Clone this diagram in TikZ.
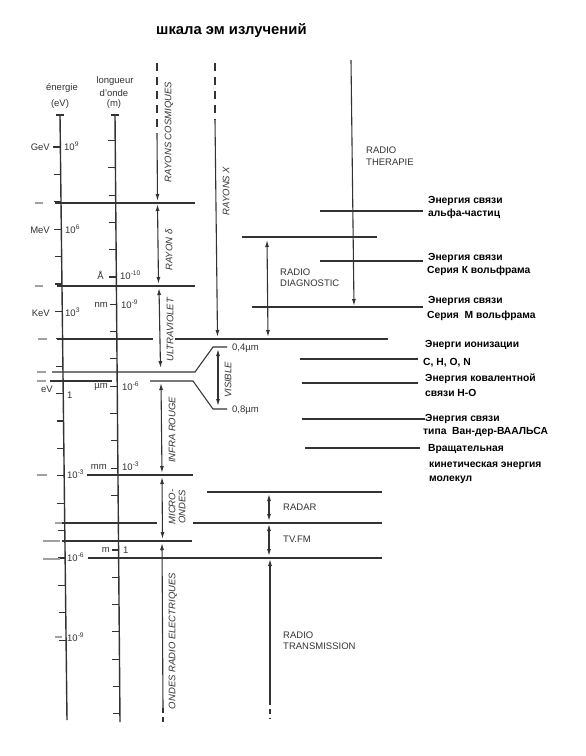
\documentclass[tikz,border=0pt]{standalone}
\usepackage{fontspec}
\setmainfont{Liberation Sans}
\usetikzlibrary{arrows.meta}
\definecolor{ink}{HTML}{333333}
\definecolor{faint}{HTML}{A0A0A0}
\begin{document}
\begin{tikzpicture}[x=1pt,y=-1pt,
  ln/.style={draw=ink, line width=1.05pt},
  axisline/.style={draw=ink, line width=1.4pt},
  gdash/.style={draw=faint, line width=1.3pt},
  tip/.tip={Latex[length=7pt,width=4pt]},
  arr/.style={draw=ink, line width=1.1pt, -tip},
  darr/.style={draw=ink, line width=1.1pt, tip-tip},
  dsh/.style={draw=ink, line width=1.1pt, dash pattern=on 8pt off 6pt},
  lbl/.style={font=\fontsize{9.5}{11}\selectfont, text=ink, inner sep=0pt},
  vlbl/.style={font=\fontsize{9.5}{11}\selectfont\itshape, text=ink, rotate=90, inner sep=0pt},
  ru/.style={font=\fontsize{10.3}{12}\selectfont\bfseries, text=black, inner sep=0pt, anchor=base west},
]
\useasboundingbox[fill=white] (0,0) rectangle (586,756);

% title
\node[font=\fontsize{14.8}{16}\selectfont\bfseries, anchor=base west, inner sep=0pt] (title) at (156,34) {шкала эм излучений};

% headers
\node[lbl] (hE1) at (62,88) {énergie};
\node[lbl] (hE2) at (60,104) {(eV)};
\node[lbl] (hW1) at (115,81) {longueur};
\node[lbl] (hW2) at (114,93) {d'onde};
\node[lbl] (hW3) at (114,104) {(m)};

% axes
\coordinate (eTop) at (60,115);
\coordinate (eBot) at (67,720);
\coordinate (wTop) at (115,115);
\coordinate (wBot) at (120,722);
\draw[axisline] (eTop) -- (eBot);
\draw[axisline] (wTop) -- (wBot);
\draw[ln] ([xshift=-4pt]eTop) -- ([xshift=4pt]eTop);
\draw[ln] ([xshift=-4pt]wTop) -- ([xshift=4pt]wTop);

% energy ticks
\foreach \k in {0,...,18}{
  \pgfmathsetmacro\yy{147+27.4*\k}
  \pgfmathsetmacro\xx{60+7*(\yy-115)/605}
  \draw[ln] (\xx-7,\yy) -- (\xx,\yy);
}
% wavelength ticks
\foreach \k in {-5,...,16}{
  \pgfmathsetmacro\yy{277+27.3*\k}
  \pgfmathsetmacro\xx{115+5*(\yy-115)/607}
  \draw[ln] (\xx-7,\yy) -- (\xx,\yy);
}

% energy labels
\node[lbl, anchor=east] (lGeV) at (50,147) {GeV};
\node[lbl, anchor=west] (n9) at (64,146) {10\textsuperscript{9}};
\node[lbl, anchor=east] (lMeV) at (50,230) {MeV};
\node[lbl, anchor=west] (n6) at (65,229) {10\textsuperscript{6}};
\node[lbl, anchor=east] (lKeV) at (50,313) {KeV};
\node[lbl, anchor=west] (n3) at (65,312) {10\textsuperscript{3}};
\node[lbl, anchor=east] (leV) at (53,389) {eV};
\node[lbl, anchor=west] (n0) at (67,395) {1};
\node[lbl, anchor=west] (nm3) at (67,474) {10\textsuperscript{-3}};
\node[lbl, anchor=west] (nm6) at (67,557) {10\textsuperscript{-6}};
\node[lbl, anchor=west] (nm9) at (67,637) {10\textsuperscript{-9}};

% wavelength labels
\node[lbl, anchor=east] (lA) at (104,275) {Å};
\node[lbl, anchor=west] (w10) at (120,275) {10\textsuperscript{-10}};
\node[lbl, anchor=east] (lnm) at (108,305) {nm};
\node[lbl, anchor=west] (w9) at (121,304) {10\textsuperscript{-9}};
\node[lbl, anchor=east] (lum) at (108,387) {µm};
\node[lbl, anchor=west] (w6) at (122,386) {10\textsuperscript{-6}};
\node[lbl, anchor=east] (lmm) at (107,467) {mm};
\node[lbl, anchor=west] (w3) at (122,466) {10\textsuperscript{-3}};
\node[lbl, anchor=east] (lm) at (110,550) {m};
\node[lbl, anchor=west] (w0) at (123,550) {1};

% faint marks left of energy axis
\foreach \ya/\xa/\xb in {203/35/43, 286/35/43, 339/38/47, 372/37/46, 381/37/46, 475/37/47, 523/55/62, 541/43/60, 559/43/60, 637/55/62}{
  \draw[gdash] (\xa,\ya) -- (\xb,\ya);
}

% horizontal boundaries (left part)
\draw[ln] (55,203) -- (195,203);
\draw[ln] (57,286) -- (195,286);
\draw[ln] (57,339) -- (153,339);
\draw[ln] (175,339) -- (388,339);
\draw[ln] (52,372) -- (195,372) -- (213,347) -- (227,347);
\draw[ln] (50,381) -- (112,381);
\draw[ln] (150,381) -- (193,381) -- (213,409) -- (227,409);
\draw[ln] (87,475) -- (193,475);
\draw[ln] (62,523) -- (157,523);
\draw[ln] (193,523) -- (382,523);
\draw[ln] (62,541) -- (192,541);
\draw[ln] (88,558) -- (382,558);
\draw[ln] (207,492) -- (382,492);

% right-side lines
\draw[ln] (320,211) -- (423,211);
\draw[ln] (242,237) -- (377,237);
\draw[ln] (320,261) -- (423,261);
\draw[ln] (252,307) -- (423,307);
\draw[ln] (300,359) -- (418,359);
\draw[ln] (302,383) -- (418,383);
\draw[ln] (302,419) -- (425,419);
\draw[ln] (305,448) -- (420,448);

% vertical arrows
\coordinate (cosA) at (157,63);
\coordinate (cosB) at (157,133);
\coordinate (cosC) at (157.5,201);
\draw[dsh] (cosA) -- (cosB);
\draw[arr] (cosB) -- (cosC);

\coordinate (xA) at (215,63);
\coordinate (xB) at (215,120);
\coordinate (xC) at (217.5,337);
\draw[dsh] (xA) -- (xB);
\draw[arr] (xB) -- (xC);

\coordinate (gA) at (157.5,204);
\coordinate (gB) at (158.5,284);
\draw[darr] (gA) -- (gB);

\coordinate (uvA) at (159,288);
\coordinate (uvB) at (160.5,368);
\draw[darr] (uvA) -- (uvB);

\coordinate (visA) at (218,349);
\coordinate (visB) at (218,406);
\draw[darr] (visA) -- (visB);

\coordinate (irA) at (161,383);
\coordinate (irB) at (162,473);
\draw[darr] (irA) -- (irB);

\coordinate (mwA) at (162,477);
\coordinate (mwB) at (162.5,539);
\draw[darr] (mwA) -- (mwB);

\coordinate (orA) at (163,708);
\coordinate (orB) at (163,726);
\coordinate (orT) at (162,543);
\draw[arr] (orA) -- (orT);
\draw[dsh, dash pattern=on 5pt off 4pt] (orA) -- (orB);

\coordinate (rtA) at (351,60);
\coordinate (rtB) at (354,306);
\draw[arr] (rtA) -- (rtB);

\coordinate (rdA) at (267,240);
\coordinate (rdB) at (268,337);
\draw[darr] (rdA) -- (rdB);

\coordinate (radA) at (269,494);
\coordinate (radB) at (269,521);
\draw[darr] (radA) -- (radB);

\coordinate (tvA) at (269,524);
\coordinate (tvB) at (269,556);
\draw[darr] (tvA) -- (tvB);

\coordinate (rxA) at (270,700);
\coordinate (rxB) at (270,719);
\coordinate (rxT) at (270,559);
\draw[arr] (rxA) -- (rxT);
\draw[dsh, dash pattern=on 5pt off 4pt] (rxA) -- (rxB);

% rotated labels
\node[vlbl] (tCos) at (169,132) {RAYONS COSMIQUES};
\node[vlbl] (tX) at (226,191) {RAYONS X};
\node[vlbl] (tG) at (169,250) {RAYON δ};
\node[vlbl] (tUV) at (170,330) {ULTRAVIOLET};
\node[vlbl] (tVis) at (228,380) {VISIBLE};
\node[vlbl] (tIR) at (172,430) {INFRA ROUGE};
\node[vlbl, align=center, font=\fontsize{9.5}{10}\selectfont\itshape] (tMW) at (177,507) {MICRO-\\ONDES};
\node[vlbl] (tOR) at (173,641) {ONDES RADIO ELECTRIQUES};

% horizontal labels
\node[lbl, anchor=base west] (t04) at (232,350.4) {0,4µm};
\node[lbl, anchor=base west] (t08) at (232,412.4) {0,8µm};
\node[lbl, anchor=base west] (tRT1) at (366,153.4) {RADIO};
\node[lbl, anchor=base west] (tRT2) at (366,165.4) {THERAPIE};
\node[lbl, anchor=base west] (tRD1) at (280,275.4) {RADIO};
\node[lbl, anchor=base west] (tRD2) at (280,286.4) {DIAGNOSTIC};
\node[lbl, anchor=base west] (tRadar) at (283,510.4) {RADAR};
\node[lbl, anchor=base west] (tTV) at (283,542.4) {TV.FM};
\node[lbl, anchor=base west] (tTr1) at (283,638.4) {RADIO};
\node[lbl, anchor=base west] (tTr2) at (283,649.4) {TRANSMISSION};

% russian annotations
\node[ru] (r1a) at (428,203) {Энергия связи};
\node[ru] (r1b) at (428,216) {альфа-частиц};
\node[ru] (r2a) at (428,260) {Энергия связи};
\node[ru] (r2b) at (427,273) {Серия К вольфрама};
\node[ru] (r3a) at (428,303) {Энергия связи};
\node[ru] (r3b) at (427,318) {Серия\ \ М вольфрама};
\node[ru] (r4a) at (425,347) {Энерги ионизации};
\node[ru] (r4b) at (423,365) {C, H, O, N};
\node[ru] (r5a) at (425,381) {Энергия ковалентной};
\node[ru] (r5b) at (425,396) {связи Н-О};
\node[ru] (r6a) at (425,421) {Энергия связи};
\node[ru] (r6b) at (423,434) {типа\ \ Ван-дер-ВААЛЬСА};
\node[ru] (r7a) at (428,451) {Вращательная};
\node[ru] (r7b) at (429,467) {кинетическая энергия};
\node[ru] (r7c) at (429,481) {молекул};
\end{tikzpicture}
\end{document}
